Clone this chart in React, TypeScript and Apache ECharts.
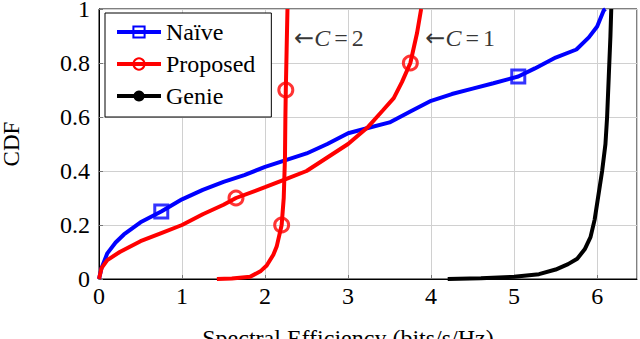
import React, { useEffect, useRef } from "react";
import * as echarts from "echarts";

const naive: [number, number][] = [
  [0, 0], [0.03, 0.04], [0.1, 0.095], [0.2, 0.135], [0.3, 0.165], [0.5, 0.21], [0.75, 0.25],
  [1, 0.295], [1.25, 0.33], [1.5, 0.36], [1.75, 0.385], [2, 0.415], [2.25, 0.44], [2.5, 0.465],
  [2.75, 0.5], [3, 0.54], [3.25, 0.56], [3.5, 0.58], [3.75, 0.62], [4, 0.66], [4.25, 0.685],
  [4.5, 0.705], [4.75, 0.725], [5.05, 0.75], [5.25, 0.78], [5.5, 0.82], [5.75, 0.85],
  [5.9, 0.895], [6.0, 0.935], [6.08, 0.995], [6.1, 1.0],
];
const naiveMarks: [number, number][] = [[0.75, 0.25], [5.05, 0.75]];

const proposedC1: [number, number][] = [
  [0, 0], [0.03, 0.04], [0.1, 0.07], [0.25, 0.1], [0.5, 0.14], [0.75, 0.17], [1, 0.2],
  [1.25, 0.24], [1.5, 0.275], [1.65, 0.3], [2, 0.34], [2.25, 0.37], [2.5, 0.4], [2.75, 0.45],
  [3, 0.5], [3.23, 0.56], [3.42, 0.625], [3.55, 0.67], [3.65, 0.73], [3.75, 0.8], [3.83, 0.91],
  [3.88, 1.0],
];
const proposedC2: [number, number][] = [
  [1.42, 0], [1.6, 0.002], [1.82, 0.008], [1.95, 0.03], [2.02, 0.05], [2.1, 0.09], [2.14, 0.12],
  [2.2, 0.2], [2.225, 0.3], [2.24, 0.45], [2.245, 0.6], [2.25, 0.7], [2.26, 0.85], [2.27, 1.0],
];
const proposedMarks: [number, number][] = [[1.65, 0.3], [3.75, 0.8], [2.2, 0.2], [2.25, 0.7]];

const genie: [number, number][] = [
  [4.2, 0], [4.6, 0.003], [5.0, 0.008], [5.3, 0.018], [5.5, 0.035], [5.65, 0.055], [5.76, 0.075],
  [5.85, 0.11], [5.92, 0.155], [5.97, 0.22], [6.0, 0.28], [6.06, 0.4], [6.1, 0.5], [6.12, 0.6],
  [6.14, 0.75], [6.16, 0.9], [6.17, 1.0],
];

const annotations: { pos: [number, number]; value: string }[] = [
  { pos: [2.35, 0.893], value: "2" },
  { pos: [3.93, 0.893], value: "1" },
];

const FONT = "'Liberation Serif', 'Times New Roman', 'DejaVu Serif', serif";
const BLUE = "#0000ff";
const RED = "#ff0000";

export default function App() {
  const ref = useRef<HTMLDivElement>(null);
  useEffect(() => {
    document.body.style.margin = "0";
    const chart = echarts.init(ref.current!, undefined, { renderer: "svg" });
    chart.setOption({
      animation: false,
      textStyle: { fontFamily: FONT },
      grid: {
        left: 99, right: 3, top: 9, bottom: 60,
        outerBoundsMode: "none",
        containLabel: false,
        show: true, borderColor: "#000", borderWidth: 1,
      },
      xAxis: {
        type: "value",
        min: 0,
        max: 6.48,
        interval: 1,
        name: "Spectral Efficiency (bits/s/Hz)",
        nameLocation: "middle",
        nameGap: 47,
        nameTextStyle: { fontFamily: FONT, fontSize: 24, color: "#000", padding: [0, 40, 0, 0] },
        axisLine: { lineStyle: { color: "#000", width: 1 } },
        axisTick: { inside: true, length: 4, lineStyle: { color: "#777" } },
        axisLabel: { fontFamily: FONT, fontSize: 24, color: "#000", margin: 5, showMaxLabel: false },
        splitLine: { show: true, lineStyle: { color: "#d0d0d0", width: 1 } },
      },
      yAxis: {
        type: "value",
        min: 0,
        max: 1,
        interval: 0.2,
        name: "CDF",
        nameLocation: "middle",
        nameGap: 76,
        nameTextStyle: { fontFamily: FONT, fontSize: 23, color: "#000" },
        axisLine: { show: true, lineStyle: { color: "#000", width: 1 } },
        axisTick: { show: true, inside: true, length: 4, lineStyle: { color: "#777" } },
        axisLabel: { fontFamily: FONT, fontSize: 24, color: "#000", margin: 9 },
        splitLine: { show: true, lineStyle: { color: "#d0d0d0", width: 1 } },
      },
      legend: {
        orient: "vertical",
        left: 105,
        top: 13,
        data: ["Naïve", "Proposed", "Genie"],
        backgroundColor: "#fff",
        borderColor: "#000",
        borderWidth: 1,
        padding: [7, 16, 9, 10],
        itemGap: 8,
        itemWidth: 44,
        itemHeight: 14,
        lineStyle: { width: 4 },
        textStyle: { fontFamily: FONT, fontSize: 24, color: "#000" },
      },
      series: [
        {
          name: "Naïve",
          type: "line",
          data: naive,
          symbol: "rect",
          symbolSize: 10,
          showSymbol: false,
          lineStyle: { color: BLUE, width: 4 },
          itemStyle: { color: "rgba(0,0,0,0)", borderColor: BLUE, borderWidth: 3 },
          z: 2,
        },
        {
          name: "Proposed",
          type: "line",
          data: proposedC1,
          symbol: "circle",
          symbolSize: 12,
          showSymbol: false,
          lineStyle: { color: RED, width: 4 },
          itemStyle: { color: "rgba(0,0,0,0)", borderColor: RED, borderWidth: 3 },
          z: 3,
        },
        {
          name: "Proposed",
          type: "line",
          data: proposedC2,
          symbol: "circle",
          symbolSize: 12,
          showSymbol: false,
          lineStyle: { color: RED, width: 4 },
          itemStyle: { color: "rgba(0,0,0,0)", borderColor: RED, borderWidth: 3 },
          z: 3,
        },
        {
          name: "Genie",
          type: "line",
          data: genie,
          symbol: "none",
          lineStyle: { color: "#000", width: 4 },
          itemStyle: { color: "#000" },
          z: 4,
        },
        {
          name: "naiveMarks",
          type: "scatter",
          data: naiveMarks,
          symbol: "rect",
          symbolSize: 13,
          itemStyle: { color: "rgba(0,0,0,0)", borderColor: BLUE, borderWidth: 3 },
          z: 5,
        },
        {
          name: "proposedMarks",
          type: "scatter",
          data: proposedMarks,
          symbol: "circle",
          symbolSize: 14,
          itemStyle: { color: "rgba(0,0,0,0)", borderColor: RED, borderWidth: 3 },
          z: 5,
        },
        {
          name: "annotations",
          type: "scatter",
          data: annotations.map((a) => ({ value: a.pos })),
          symbolSize: 0,
          silent: true,
          label: {
            show: true,
            position: "right",
            distance: 0,
            fontFamily: FONT,
            formatter: (p: any) => `{a|←}{c|C}{e|=}{n|${annotations[p.dataIndex].value}}`,
            rich: {
              a: { fontFamily: "'DejaVu Sans', sans-serif", fontSize: 24, color: "#000" },
              c: { fontFamily: FONT, fontSize: 24, fontStyle: "italic", color: "#000" },
              e: { fontFamily: FONT, fontSize: 24, color: "#000", padding: [0, 4, 0, 4] },
              n: { fontFamily: FONT, fontSize: 24, color: "#000" },
            },
          },
          z: 6,
        },
      ],
    });
    return () => chart.dispose();
  }, []);
  return <div ref={ref} style={{ width: 640, height: 339 }} />;
}
